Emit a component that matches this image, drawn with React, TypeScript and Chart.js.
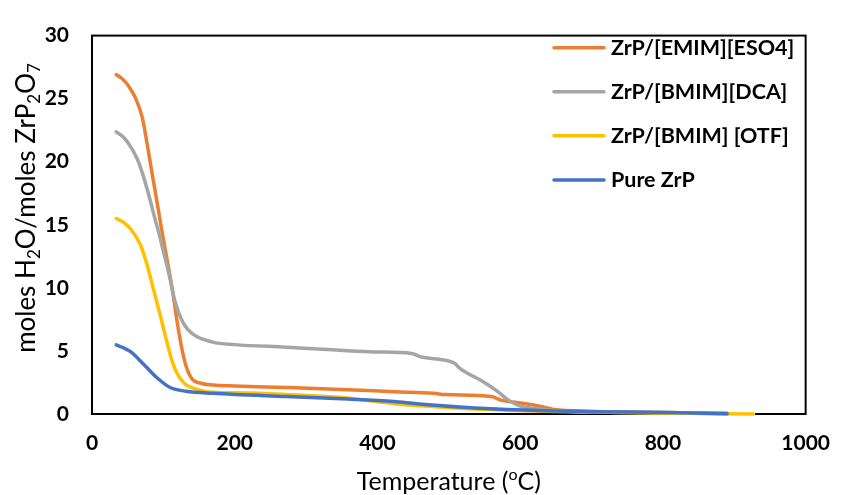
import React, { useEffect, useRef } from "react";
import { Chart, registerables } from "chart.js";

Chart.register(...registerables);

const seriesNames = ["ZrP/[EMIM][ESO4]", "ZrP/[BMIM][DCA]", "ZrP/[BMIM] [OTF]", "Pure ZrP"];
const seriesColors = ["#ED7D31", "#A5A5A5", "#FFC000", "#4472C4"];

const emimTemp = [34, 42, 50, 61, 70.5, 77, 84, 91, 98, 105, 112, 121, 130, 139, 155, 169, 200, 272, 350, 423, 478, 496, 560, 574, 597, 629, 647, 700, 800, 890];
const emimVal = [26.9, 26.6, 26.1, 25.05, 23.5, 21.5, 19.15, 16.85, 14.5, 12.3, 10.05, 6.7, 4.15, 2.87, 2.4, 2.3, 2.22, 2.1, 1.95, 1.77, 1.64, 1.54, 1.38, 1.08, 0.9, 0.6, 0.36, 0.22, 0.12, 0.05];

const dcaTemp = [34, 42, 50, 63.6, 72.8, 82, 89, 93, 100, 107, 116, 128, 141.5, 169, 200, 272, 396, 448, 460, 483, 508, 515, 547, 570, 581, 597, 620, 652, 750, 890];
const dcaVal = [22.36, 22.05, 21.55, 20.2, 18.7, 16.85, 15.3, 14.5, 12.9, 11.3, 9.0, 7.2, 6.33, 5.7, 5.5, 5.3, 4.92, 4.8, 4.54, 4.36, 4.03, 3.64, 2.6, 1.72, 1.2, 0.69, 0.44, 0.26, 0.12, 0.03];

const otfTemp = [34, 44, 54.5, 68, 77, 86.5, 96, 105, 114, 128, 146, 169, 200, 272, 350, 423, 460, 515, 606, 700, 800, 927];
const otfVal = [15.5, 15.2, 14.65, 13.4, 11.85, 9.8, 7.75, 5.7, 3.9, 2.5, 1.98, 1.72, 1.68, 1.55, 1.3, 0.82, 0.65, 0.45, 0.25, 0.15, 0.08, 0.0];

const pureTemp = [34, 44, 54.5, 73, 91, 109.5, 132, 169, 272, 350, 423, 455, 515, 606, 698, 790, 890];
const pureVal = [5.48, 5.25, 4.92, 3.9, 2.87, 2.1, 1.8, 1.64, 1.38, 1.2, 1.0, 0.82, 0.56, 0.31, 0.18, 0.13, 0.02];

const xTicks = [0, 200, 400, 600, 800, 1000];
const yTicks = [0, 5, 10, 15, 20, 25, 30];

const FONT = "Lato, 'Open Sans', sans-serif";

function pts(t: number[], v: number[]) {
  return t.map((x, i) => ({ x, y: v[i] }));
}

type Seg = { text: string; sub?: boolean; sup?: boolean };

function drawRich(ctx: CanvasRenderingContext2D, segs: Seg[], size: number, cx: number, cy: number) {
  const small = Math.round(size * 0.65);
  let total = 0;
  for (const s of segs) {
    ctx.font = `${s.sub || s.sup ? small : size}px ${FONT}`;
    total += ctx.measureText(s.text).width;
  }
  let x = cx - total / 2;
  ctx.textBaseline = "alphabetic";
  ctx.textAlign = "left";
  for (const s of segs) {
    ctx.font = `${s.sub || s.sup ? small : size}px ${FONT}`;
    let dy = size * 0.35;
    if (s.sub) dy += size * 0.2;
    if (s.sup) dy -= size * 0.38;
    ctx.fillText(s.text, x, cy + dy);
    x += ctx.measureText(s.text).width;
  }
}

const decorPlugin = {
  id: "decor",
  beforeDatasetsDraw(chart: any) {
    const { ctx, chartArea } = chart;
    ctx.save();
    ctx.strokeStyle = "#000";
    ctx.lineWidth = 2;
    ctx.strokeRect(chartArea.left, chartArea.top, chartArea.right - chartArea.left, chartArea.bottom - chartArea.top);
    ctx.restore();
  },
  afterDraw(chart: any) {
    const { ctx, chartArea } = chart;
    ctx.save();
    ctx.fillStyle = "#000";
    drawRich(
      ctx,
      [{ text: "Temperature (" }, { text: "o", sup: true }, { text: "C)" }],
      25,
      (chartArea.left + chartArea.right) / 2,
      481
    );
    ctx.save();
    ctx.translate(26, 208);
    ctx.rotate(-Math.PI / 2);
    drawRich(
      ctx,
      [
        { text: "moles H" },
        { text: "2", sub: true },
        { text: "O/moles ZrP" },
        { text: "2", sub: true },
        { text: "O" },
        { text: "7", sub: true },
      ],
      26,
      0,
      0
    );
    ctx.restore();
    const rows = [47.7, 91.7, 135.7, 180];
    ctx.lineCap = "round";
    for (let i = 0; i < seriesNames.length; i++) {
      ctx.strokeStyle = seriesColors[i];
      ctx.lineWidth = 3.5;
      ctx.beginPath();
      ctx.moveTo(554, rows[i]);
      ctx.lineTo(604, rows[i]);
      ctx.stroke();
      ctx.font = `bold 21.5px ${FONT}`;
      ctx.textAlign = "left";
      ctx.textBaseline = "middle";
      ctx.fillStyle = "#000";
      ctx.fillText(seriesNames[i], 611, rows[i]);
    }
    ctx.restore();
  },
};

export default function App() {
  const ref = useRef<HTMLCanvasElement | null>(null);
  useEffect(() => {
    document.body.style.margin = "0";
    const canvas = ref.current;
    if (!canvas) return;
    const all = [
      pts(emimTemp, emimVal),
      pts(dcaTemp, dcaVal),
      pts(otfTemp, otfVal),
      pts(pureTemp, pureVal),
    ];
    const chart = new Chart(canvas, {
      type: "line",
      data: {
        datasets: all.map((d, i) => ({
          label: seriesNames[i],
          data: d,
          borderColor: seriesColors[i],
          backgroundColor: seriesColors[i],
          borderWidth: 3.5,
          borderCapStyle: "round" as const,
          borderJoinStyle: "round" as const,
          pointRadius: 0,
          fill: false,
          cubicInterpolationMode: "monotone" as const,
          order: 3 - i,
          clip: 6,
        })),
      },
      options: {
        animation: false,
        responsive: false,
        events: [],
        layout: { padding: { top: 24, right: 27, left: 0, bottom: 0 } },
        plugins: { legend: { display: false }, tooltip: { enabled: false } },
        scales: {
          x: {
            type: "linear",
            min: 0,
            max: 1000,
            afterFit: (s: any) => {
              s.height = 81;
            },
            afterBuildTicks: (s: any) => {
              s.ticks = xTicks.map((v) => ({ value: v }));
            },
            grid: { display: false, drawTicks: false },
            border: { display: false },
            ticks: {
              color: "#000",
              padding: 17,
              maxRotation: 0,
              callback: (v: any) => String(v),
              font: { family: FONT, size: 21, weight: "bold" },
            },
          },
          y: {
            type: "linear",
            min: 0,
            max: 30,
            afterFit: (s: any) => {
              s.width = 92;
            },
            afterBuildTicks: (s: any) => {
              s.ticks = yTicks.map((v) => ({ value: v }));
            },
            grid: { display: false, drawTicks: false },
            border: { display: false },
            ticks: {
              color: "#000",
              padding: 23,
              callback: (v: any) => String(v),
              font: { family: FONT, size: 21, weight: "bold" },
            },
          },
        },
      },
      plugins: [decorPlugin],
    });
    return () => chart.destroy();
  }, []);
  return (
    <div style={{ width: 847, height: 495 }}>
      <canvas ref={ref} width={847} height={495} style={{ width: 847, height: 495, display: "block" }} />
    </div>
  );
}
